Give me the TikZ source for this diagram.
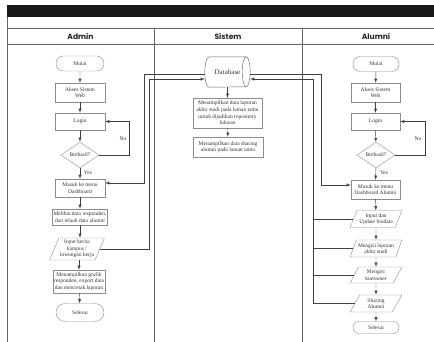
\documentclass[tikz,border=0pt]{standalone}
\usepackage{fontspec}
\setmainfont{Liberation Serif}
\newfontfamily\headfont{Poppins}
\usepackage{tikz}
\usetikzlibrary{shapes,arrows,positioning,calc}

\newcommand{\kecil}{\fontsize{5.5}{6.6}\selectfont}

\begin{document}
\begin{tikzpicture}[x=1pt,y=-1pt,>=latex,
    garis/.style={draw=black!60,line width=0.6pt},
    alur/.style={->,draw=black!75,line width=0.45pt},
    kotak/.style={draw=black!45,fill=white,text=black!80,font=\kecil,align=center,inner sep=1pt},
    proses/.style={kotak,rectangle,minimum width=50pt},
    terminal/.style={kotak,rounded rectangle,minimum width=50pt},
    keputusan/.style={kotak,diamond,minimum width=38pt,minimum height=26pt,inner sep=0pt},
    masukan/.style={kotak,trapezium,trapezium left angle=65,trapezium right angle=115,
        trapezium stretches=true,minimum width=52pt},
    label/.style={font=\kecil,text=black!80,inner sep=1pt},
    judul/.style={font=\headfont\bfseries\fontsize{7.6}{9}\selectfont,text=black!85}]
\useasboundingbox (0,0) rectangle (434,342);

% Tabel swimlane
\fill[black!90] (7,5) rectangle (434,17);
\draw[garis] (7,17) -- (7,342);
\draw[garis] (7,28) -- (434,28);
\draw[garis] (7,44) -- (434,44);
\draw[garis] (154,28) -- (154,342);
\draw[garis] (302,28) -- (302,342);
\node[judul] (hAdmin) at (80.5,36) {Admin};
\node[judul] (hSistem) at (228,36) {Sistem};
\node[judul] (hAlumni) at (376,36) {Alumni};

% Admin
\node[terminal,minimum height=15pt] (mulaiA) at (80,63.5) {Mulai};
\node[proses,minimum height=19pt] (aksesA) at (80,92.5) {Akses Sistem\\Web};
\node[proses,minimum height=17pt] (loginA) at (80,121.5) {Login};
\node[keputusan] (cekA) at (80,155) {Berhasil?};
\node[proses,minimum height=18pt] (dashA) at (80,188) {Masuk ke menu\\Dashboard};
\node[proses,minimum height=16pt] (lihatA) at (80,217) {Melihat data responden,\\dan telaah data alumni};
\node[masukan,minimum height=22pt] (beritaA) at (77,249) {Input berita\\kampus /\\lowongan kerja};
\node[proses,minimum width=52pt,minimum height=23pt] (grafikA) at (79,281.5) {Menampilkan grafik\\responden, export data\\dan mencetak laporan};
\node[terminal,minimum height=18pt] (selesaiA) at (80,312.5) {Selesai};

\draw[alur] (mulaiA) -- (aksesA);
\draw[alur] (aksesA) -- (loginA);
\draw[alur] (loginA) -- (cekA);
\draw[alur] (cekA) -- (dashA);
\draw[alur] (dashA) -- (lihatA);
\draw[alur] (lihatA) -- (beritaA.north -| lihatA.south);
\draw[alur] (beritaA.south -| grafikA.north) -- (grafikA);
\draw[alur] (grafikA) -- (selesaiA);
\draw[alur] (cekA.east) -- ++(30,0) |- (loginA.east);
\node[label] (noA) at (123,139) {No};
\node[label] (yesA) at (88,173) {Yes};

% Sistem
\node[kotak,draw=none,font=\fontsize{7}{8}\selectfont,minimum width=45pt,minimum height=30pt] (dbase) at (227.5,72) {Database};
\draw[black!60,line width=0.45pt] ([xshift=4pt]dbase.north west) -- ([xshift=-4pt]dbase.north east)
  arc[start angle=90,end angle=-90,x radius=4pt,y radius=15pt]
  -- ([xshift=4pt]dbase.south west)
  arc[start angle=270,end angle=90,x radius=4pt,y radius=15pt];
\draw[black!60,line width=0.45pt] ([xshift=-4pt]dbase.north east)
  arc[start angle=90,end angle=270,x radius=4pt,y radius=15pt];
\node[proses,minimum width=69pt,minimum height=30pt] (tampil1) at (227.5,113) {Menampilkan data laporan\\akhir studi pada laman tamu\\untuk dijadikan repository\\lulusan};
\node[proses,minimum width=70pt,minimum height=20pt] (tampil2) at (228,147) {Menampilkan data sharing\\alumni pada laman tamu};
\draw[alur] (dbase) -- (tampil1);
\draw[alur] (tampil1) -- (tampil2);

% Alumni
\node[terminal,minimum width=48pt,minimum height=15pt] (mulaiB) at (376,64) {Mulai};
\node[proses,minimum width=49pt,minimum height=19pt] (aksesB) at (375.5,92.5) {Akses Sistem\\Web};
\node[proses,minimum width=49pt,minimum height=17pt] (loginB) at (375.5,121.5) {Login};
\node[keputusan] (cekB) at (376,155) {Berhasil?};
\node[proses,minimum width=49pt,minimum height=19pt] (dashB) at (375.5,189.5) {Masuk ke menu\\Dashboard Alumni};
\node[masukan,minimum height=17pt] (updateB) at (376,219) {Input dan\\Update biodata};
\node[masukan,minimum height=17pt] (laporanB) at (376,248.5) {Mengisi laporan\\akhir studi};
\node[masukan,minimum height=16pt] (kuesB) at (376,275) {Mengisi\\kuesioner};
\node[masukan,minimum height=17pt] (sharingB) at (376,303.5) {Sharing\\Alumni};
\node[terminal,minimum width=48pt,minimum height=12pt] (selesaiB) at (376,327.5) {Selesai};

\draw[alur] (mulaiB) -- (aksesB);
\draw[alur] (aksesB) -- (loginB);
\draw[alur] (loginB) -- (cekB);
\draw[alur] (cekB) -- (dashB);
\draw[alur] (dashB) -- (updateB);
\draw[alur] (updateB) -- (laporanB);
\draw[alur] (laporanB) -- (kuesB);
\draw[alur] (kuesB) -- (sharingB);
\draw[alur] (sharingB) -- (selesaiB);
\draw[alur] (cekB.east) -- ++(30,0) |- (loginB.east);
\node[label] (noB) at (418,139) {No};
\node[label] (yesB) at (384,173) {Yes};

% Hubungan ke database
\coordinate (dbkeluarA) at ([yshift=-2pt]dbase.west);
\coordinate (dbmasukA) at ([yshift=-7pt]dbase.west);
\coordinate (dbkeluarB) at ([yshift=-2pt]dbase.east);
\coordinate (dbmasukB) at ([yshift=-7pt]dbase.east);
\coordinate (jalurA1) at (144,0);
\coordinate (jalurA2) at (149,0);
\coordinate (jalurB1) at (321,0);
\coordinate (jalurB2) at (313,0);
\coordinate (dashinA) at ([yshift=5pt]dashA.east);
\coordinate (dashinB) at ([yshift=4.5pt]dashB.west);
\draw[alur] (dbkeluarA) -| (jalurA1 |- dashinA) -- (dashinA);
\draw[alur] (beritaA.east) -| (jalurA2 |- dbmasukA) -- (dbmasukA);
\draw[alur] (dbkeluarB) -| (jalurB1 |- dashinB) -- (dashinB);
\draw[alur] (sharingB.west) -| (jalurB2 |- dbmasukB) -- (dbmasukB);
\foreach \n in {updateB,laporanB,kuesB}
  \draw[alur,-] (\n.west) -- (\n.west -| jalurB2);
\end{tikzpicture}
\end{document}
